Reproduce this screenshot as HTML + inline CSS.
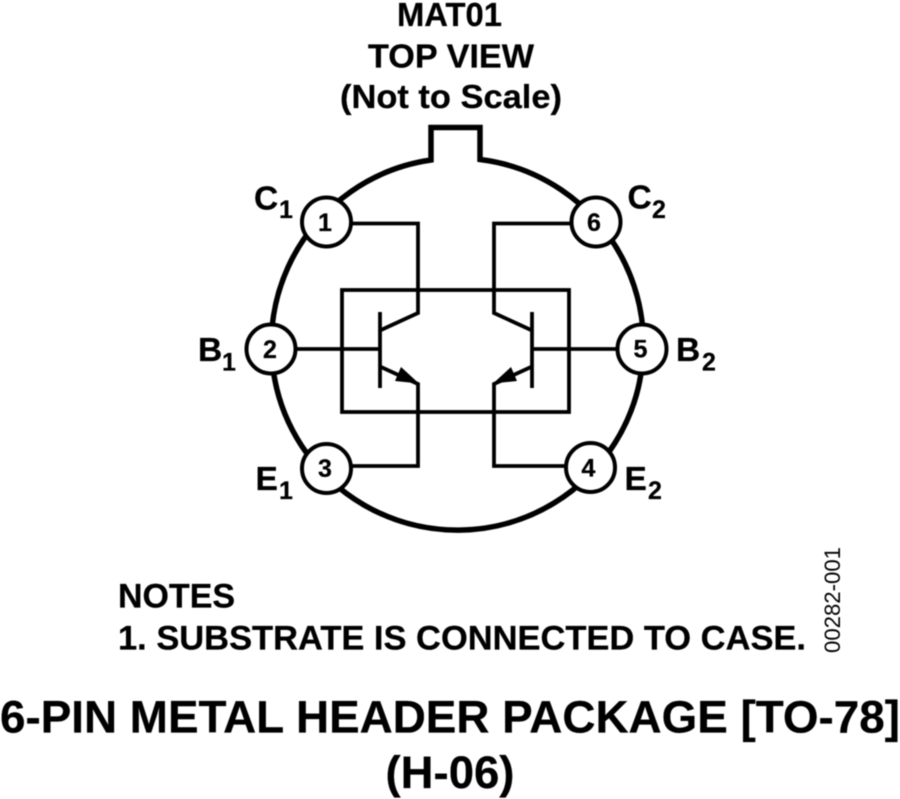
<!DOCTYPE html>
<html>
<head>
<meta charset="utf-8">
<style>
html,body{margin:0;padding:0;background:#fff;width:900px;height:799px;overflow:hidden}
svg{display:block;filter:blur(.45px)}
text{font-family:"Liberation Sans",Arial,sans-serif;fill:#000;font-weight:700;stroke:#000;stroke-width:.25px}
</style>
</head>
<body>
<svg width="900" height="799" viewBox="0 0 900 799" xmlns="http://www.w3.org/2000/svg">
<g font-size="33.5">
<text x="449.5" y="26" text-anchor="middle" textLength="105" lengthAdjust="spacingAndGlyphs">MAT01</text>
<text x="451" y="67.5" text-anchor="middle" textLength="166" lengthAdjust="spacingAndGlyphs">TOP VIEW</text>
<text x="451" y="108" text-anchor="middle" textLength="222" lengthAdjust="spacingAndGlyphs">(Not to Scale)</text>
</g>
<path d="M431 160 V127.5 H480 V159.5 A186 186 0 1 1 431 160 Z" fill="none" stroke="#000" stroke-width="5.5" stroke-linejoin="miter"/>
<g fill="none" stroke="#000" stroke-width="3.8">
<rect x="342" y="290" width="227" height="122"/>
<path d="M352 223.5H418V313L381 330"/>
<path d="M570 223.5H494V313L531 330"/>
<path d="M381 367L418 384V466H352"/>
<path d="M531 367L494 384V466H565"/>
<path d="M297 349H380"/>
<path d="M532 349H616"/>
<path d="M380 312V388"/>
<path d="M532 312V388"/>
</g>
<path d="M419 383.5L395 381L401 367Z" fill="#000"/>
<path d="M493 383.5L517 381L511 367Z" fill="#000"/>
<g fill="#fff" stroke="#000" stroke-width="4">
<circle cx="326.5" cy="222" r="24.5"/>
<circle cx="596" cy="222" r="24.5"/>
<circle cx="271" cy="349" r="24.5"/>
<circle cx="642" cy="349" r="24.5"/>
<circle cx="326.5" cy="468.5" r="24.5"/>
<circle cx="590.5" cy="467.5" r="24.5"/>
</g>
<g font-size="25" text-anchor="middle">
<text x="325" y="231">1</text>
<text x="594" y="231">6</text>
<text x="270" y="358">2</text>
<text x="640.5" y="357.5">5</text>
<text x="325" y="477">3</text>
<text x="588.5" y="476.5">4</text>
</g>
<g font-size="33.5">
<text x="254" y="209.5">C</text><text x="279" y="218" font-size="25">1</text>
<text x="627.5" y="208.5">C</text><text x="652" y="218" font-size="25">2</text>
<text x="198" y="361">B</text><text x="222" y="370.5" font-size="25">1</text>
<text x="676" y="361">B</text><text x="702" y="370.5" font-size="25">2</text>
<text x="255.5" y="490">E</text><text x="279" y="499" font-size="25">1</text>
<text x="624.5" y="490">E</text><text x="648" y="499" font-size="25">2</text>
</g>
<text x="118" y="607.5" font-size="34" textLength="117" lengthAdjust="spacingAndGlyphs">NOTES</text>
<text x="118" y="649.5" font-size="34" textLength="688" lengthAdjust="spacingAndGlyphs">1. SUBSTRATE IS CONNECTED TO CASE.</text>
<text x="840" y="653" font-size="22" transform="rotate(-90 840 653)" textLength="106" lengthAdjust="spacingAndGlyphs" style="font-weight:400;stroke:none">00282-001</text>
<text x="0" y="732.5" font-size="45.5" textLength="900" lengthAdjust="spacingAndGlyphs">6-PIN METAL HEADER PACKAGE [TO-78]</text>
<text x="450" y="788" font-size="45.5" text-anchor="middle">(H-06)</text>
</svg>
</body>
</html>
